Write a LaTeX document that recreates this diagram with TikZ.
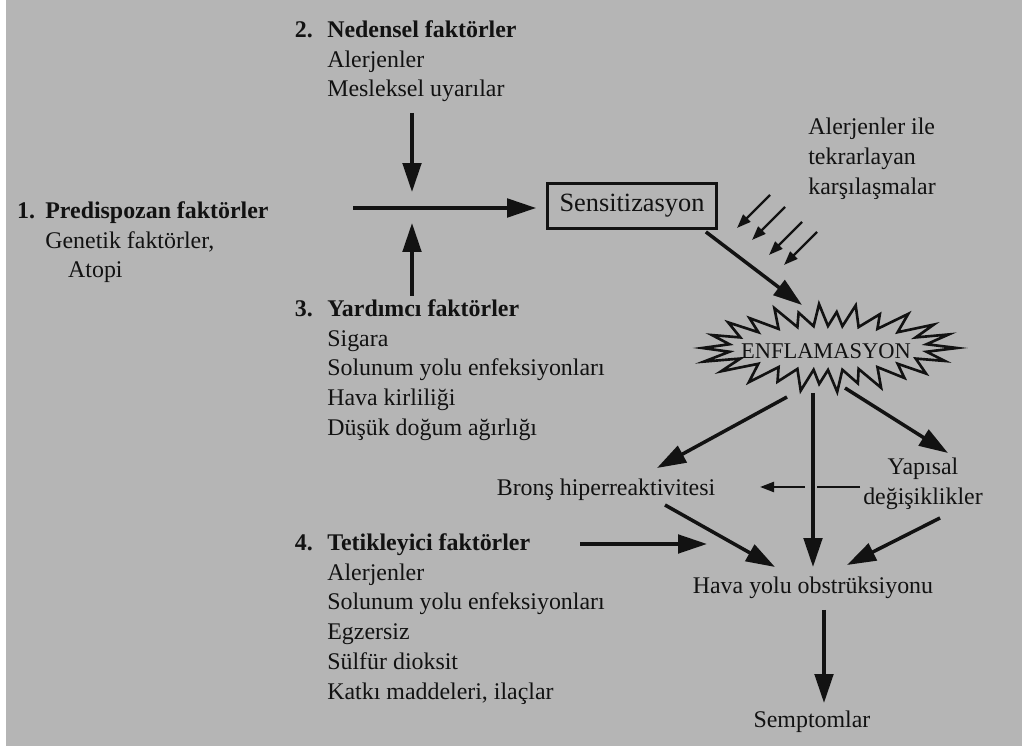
\documentclass[tikz,border=0pt]{standalone}
\usepackage{fontspec}
\setmainfont{Liberation Serif}
\usepackage{tikz}
\usetikzlibrary{arrows.meta,positioning,calc}
\definecolor{scangray}{RGB}{181,181,181}
\definecolor{inkblack}{RGB}{18,18,18}

\begin{document}
\begin{tikzpicture}[
    x=0.02cm, y=-0.02cm,
    every node/.style={font=\fontsize{13.6}{17}\selectfont, text=inkblack, inner sep=0pt},
    block/.style={align=left, anchor=north west},
    boxnode/.style={draw=inkblack, line width=1.6pt, minimum width=3.38cm, minimum height=0.9cm, font=\fontsize{15}{18}\selectfont},
    arrow/.style={-{Triangle[length=0.58cm,width=0.37cm]}, line width=2pt, draw=inkblack},
    smallarrow/.style={-{Triangle[length=0.28cm,width=0.2cm]}, line width=1.4pt, draw=inkblack},
    dasharrow/.style={-{Triangle[length=0.28cm,width=0.2cm]}, line width=1.3pt, draw=inkblack, dash pattern=on 0.86cm off 0.24cm on 2cm off 0cm},
    burst/.style={line width=1.5pt, draw=inkblack, line join=miter}
]

% Scanned page background
\fill[white] (0,0) rectangle (1022,749);
\fill[scangray] (6,0) rectangle (1022,746);
\useasboundingbox (0,0) rectangle (1022,749);

% Factor lists
\node[block] (predis) at (45,201) {\textbf{\llap{\makebox[16pt][l]{1.}}Predispozan faktörler}\\Genetik faktörler,\\\hspace{13pt}Atopi};
\node[block] (nedensel) at (327,20) {\textbf{\llap{\makebox[18.5pt][l]{2.}}Nedensel faktörler}\\Alerjenler\\Mesleksel uyarılar};
\node[block] (yardimci) at (327,299) {\textbf{\llap{\makebox[18.5pt][l]{3.}}Yardımcı faktörler}\\Sigara\\Solunum yolu enfeksiyonları\\Hava kirliliği\\Düşük doğum ağırlığı};
\node[block] (tetik) at (327,533) {\textbf{\llap{\makebox[18.5pt][l]{4.}}Tetikleyici faktörler}\\Alerjenler\\Solunum yolu enfeksiyonları\\Egzersiz\\Sülfür dioksit\\Katkı maddeleri, ilaçlar};
\node[block] (tekrar) at (808,118) {Alerjenler ile\\tekrarlayan\\karşılaşmalar};

% Main chain
\node[boxnode] (sens) at (632,206) {Sensitizasyon};
\node[font=\fontsize{12.8}{15}\selectfont] (enf) at (826,351) {ENFLAMASYON};
\node (bronc) at (606,490) {Bronş hiperreaktivitesi};
\node[align=center] (yapisal) at (923,484) {Yapısal\\değişiklikler};
\node (hava) at (813,588) {Hava yolu obstrüksiyonu};
\node (semptom) at (812,722) {Semptomlar};

% Starburst round the inflammation label
\begin{scope}[shift={(enf.center)}, shift={(2,-3)}]
\foreach \k in {0,...,51}{
    \pgfmathsetmacro{\ang}{\k*(360/52)}
    \pgfmathsetmacro{\tang}{\ang+12*sin(2*\ang)}
    \pgfmathsetmacro{\ra}{isodd(\k) ? 100 : 129+6*sin(mod(\k*151,360))}
    \pgfmathsetmacro{\rb}{isodd(\k) ? 22 : 40+4*sin(mod(\k*97,360))}
    \coordinate (b\k) at ({\ra*cos(\tang)},{\rb*sin(\tang)});
}
\draw[burst] (b0) \foreach \k in {1,...,51}{ -- (b\k) } -- cycle;
\end{scope}

% Cross of the first three factors
\coordinate (cross) at (412,208);
\coordinate (crossleft) at (353,208);
\coordinate (downtop) at (412,113);
\coordinate (upbottom) at (412,296);
\draw[arrow, shorten >=0.2cm] (crossleft) -- (sens.west |- crossleft);
\draw[arrow, shorten >=0.32cm] (downtop) -- (cross);
\draw[arrow, shorten >=0.3cm] (upbottom) -- (cross);

% Repeated exposure
\coordinate (exposure) at (770,195);
\foreach \dx/\dy in {0/0,15/12,32/27,47/37}
    \draw[smallarrow] ([shift={(\dx,\dy)}]exposure) -- ++(-33,33);

\draw[arrow] ([shift={(-12,2)}]sens.south east) -- ([shift={(-24,-46)}]enf.center);

% From inflammation
\draw[arrow] ([shift={(-39,46)}]enf.center) -- ([shift={(51,-22)}]bronc.center);
\draw[arrow] ([shift={(-13,42)}]enf.center) -- ([shift={(0,-21)}]hava.center);
\draw[arrow] ([shift={(19,37)}]enf.center) -- ([shift={(25,-31)}]yapisal.center);
\draw[dasharrow] ([shift={(-63,3)}]yapisal.center) -- ([shift={(154,-3)}]bronc.center);

% Into airway obstruction
\draw[arrow] ([shift={(59,15)}]bronc.center) -- ([shift={(-38,-21)}]hava.center);
\draw[arrow] ([shift={(17,34)}]yapisal.center) -- ([shift={(34,-23)}]hava.center);
\draw[arrow] ([shift={(253,11)}]tetik.north west) -- ([shift={(-106,-44)}]hava.center);
\draw[arrow] ([shift={(11,22)}]hava.center) -- ([shift={(12,-19)}]semptom.center);

\end{tikzpicture}
\end{document}
